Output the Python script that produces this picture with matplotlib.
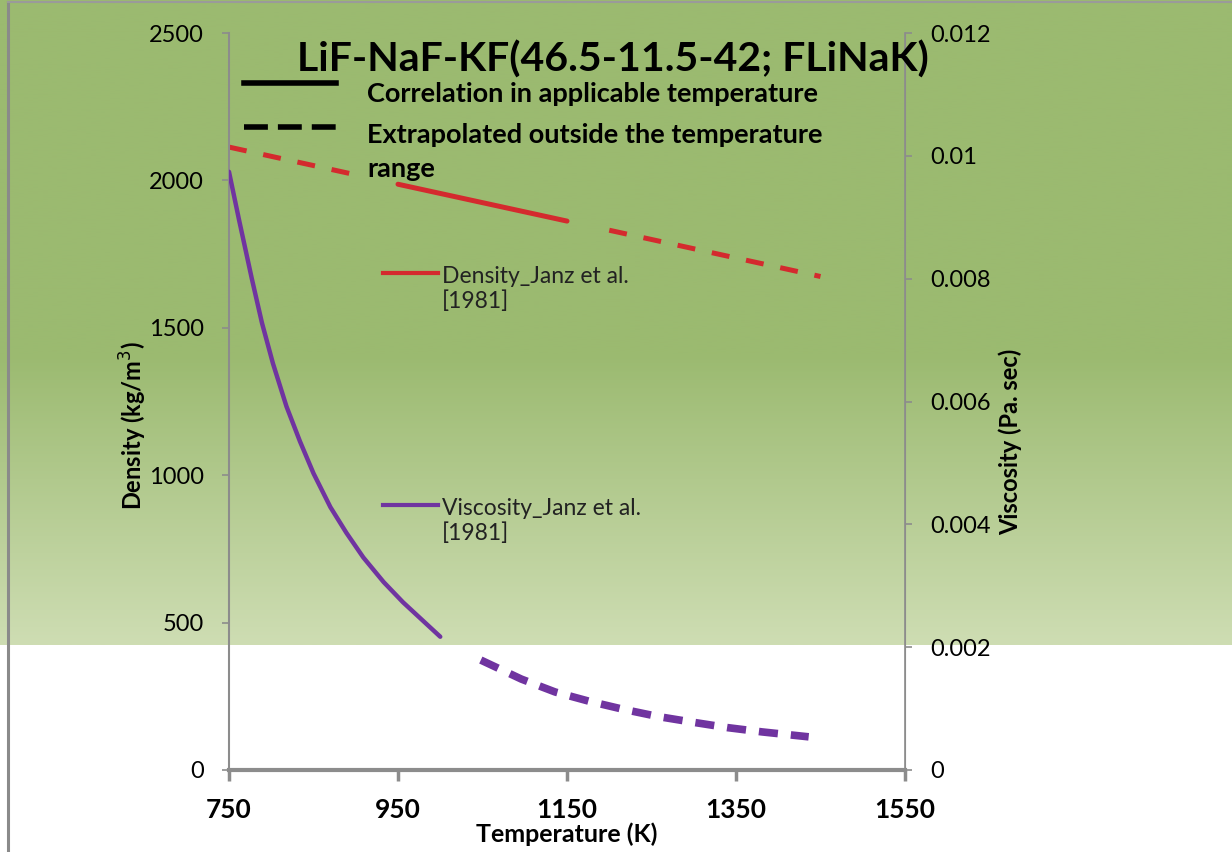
import numpy as np
import matplotlib
matplotlib.use("Agg")
import matplotlib.pyplot as plt
from matplotlib.lines import Line2D

# ---------------- data ----------------
# Density (Janz et al. 1981), kg/m3
dens_T_low = [750, 900]
dens_low = [2113, 2019]
dens_T_fit = [950, 1150]
dens_fit = [1987, 1862]
dens_T_high = [1200, 1450]
dens_high = [1831, 1674]

# Viscosity (Janz et al. 1981), Pa.s
visc_T_fit = [750, 762, 777, 789, 802, 818, 834, 850, 870, 889, 909, 933, 956, 1000]
visc_fit = [0.00974, 0.00895, 0.00800, 0.00728, 0.00662, 0.00592, 0.00535, 0.00483,
            0.00428, 0.00386, 0.00346, 0.00306, 0.00273, 0.00217]
visc_T_ext = [1048, 1096, 1136, 1176, 1216, 1258, 1298, 1340, 1381, 1436]
visc_ext = [0.00179, 0.00148, 0.00127, 0.00112, 0.00099, 0.00087, 0.00078,
            0.00069, 0.00062, 0.00054]

x_ticks = [750, 950, 1150, 1350, 1550]
dens_ticks = [0, 500, 1000, 1500, 2000, 2500]
visc_ticks = [0, 0.002, 0.004, 0.006, 0.008, 0.01, 0.012]
visc_tick_labels = ["0", "0.002", "0.004", "0.006", "0.008", "0.01", "0.012"]

title = "LiF-NaF-KF(46.5-11.5-42; FLiNaK)"
legend_solid = "Correlation in applicable temperature"
legend_dash = "Extrapolated outside the temperature\nrange"
dens_label = "Density_Janz et al.\n[1981]"
visc_label = "Viscosity_Janz et al.\n[1981]"
x_label = "Temperature (K)"
y_label = "Density (kg/m$^3$)"
y2_label = "Viscosity (Pa. sec)"

RED = "#D42A2E"
PURPLE = "#7034A0"
FONT = "Lato"

W, H = 1232, 852
fig = plt.figure(figsize=(W / 100, H / 100), dpi=100)
fig.patch.set_facecolor("white")


def fx(px):
    return px / W


def fy(py):
    return 1 - py / H


# background gradient (top part of the image)
gh = 645
bg = fig.add_axes([0, fy(gh), 1, gh / H], zorder=-5)
rows = np.linspace(0, 1, 256)
top = np.array([155, 186, 112]) / 255
bot = np.array([206, 221, 179]) / 255
t = np.clip((rows - 0.55) / 0.45, 0, 1)
grad = top[None, :] * (1 - t[:, None]) + bot[None, :] * t[:, None]
bg.imshow(grad[:, None, :], aspect="auto", extent=[0, 1, 0, 1])
bg.set_axis_off()

# frame lines of the picture
fig.add_artist(Line2D([fx(8), fx(8)], [0, fy(2)], color="#8a8a8a", lw=2.2))
fig.add_artist(Line2D([fx(8), 1], [fy(2), fy(2)], color="#9a9a9a", lw=1.5))

ax = fig.add_axes([fx(229), fy(770), (905 - 229) / W, (770 - 33) / H])
ax.set_facecolor("none")
ax2 = ax.twinx()
ax2.set_facecolor("none")

# density
ax.plot(dens_T_low, dens_low, color=RED, lw=3.6, ls=(0, (3.6, 3.4)))
ax.plot(dens_T_fit, dens_fit, color=RED, lw=3.6, solid_capstyle="round")
ax.plot(dens_T_high, dens_high, color=RED, lw=3.6, ls=(0, (3.6, 3.4)))

# viscosity
ax2.plot(visc_T_fit, visc_fit, color=PURPLE, lw=3.2, solid_capstyle="round")
ax2.plot(visc_T_ext, visc_ext, color=PURPLE, lw=5.5, ls=(0, (2.5, 1.7)))

ax.set_xlim(750, 1550)
ax.set_ylim(0, 2500)
ax2.set_ylim(0, 0.012)
ax.set_xticks(x_ticks)
ax.set_xticklabels([str(v) for v in x_ticks], fontfamily=FONT, fontweight="bold", fontsize=19)
ax.set_yticks(dens_ticks)
ax.set_yticklabels([str(v) for v in dens_ticks], fontfamily=FONT, fontsize=17)
ax2.set_yticks(visc_ticks)
ax2.set_yticklabels(visc_tick_labels, fontfamily=FONT, fontsize=17)

for a in (ax, ax2):
    for s in a.spines.values():
        s.set_color("#8c8c8c")
    a.spines["top"].set_visible(False)
ax.spines["left"].set_linewidth(1.5)
ax.spines["bottom"].set_linewidth(3)
ax2.spines["right"].set_linewidth(1.2)
ax2.spines["left"].set_visible(False)
ax2.spines["bottom"].set_visible(False)
ax.tick_params(axis="x", direction="out", length=8, width=2.5, color="#8c8c8c", pad=12)
ax.tick_params(axis="y", direction="out", length=5, width=1.2, color="#8c8c8c", pad=13)
ax2.tick_params(axis="y", direction="out", length=5, width=1.2, color="#8c8c8c", pad=13)

# axis titles
fig.text(fx(567), fy(834), x_label, fontfamily=FONT, fontweight="bold", fontsize=18,
         ha="center", va="center")
fig.text(fx(133), fy(426), y_label, fontfamily=FONT, fontweight="bold", fontsize=17,
         ha="center", va="center", rotation=90)
fig.text(fx(1010), fy(442), y2_label, fontfamily=FONT, fontweight="bold", fontsize=17,
         ha="center", va="center", rotation=90)

# title and custom legend
fig.text(fx(297), fy(60), title, fontfamily=FONT, fontweight="bold", fontsize=29.5,
         va="center", ha="left")
fig.add_artist(Line2D([fx(244), fx(336)], [fy(83)] * 2, color="black", lw=4))
fig.add_artist(Line2D([fx(244), fx(336)], [fy(127)] * 2, color="black", lw=4,
                      ls=(0, (4.3, 1.8))))
fig.text(fx(367), fy(94), legend_solid, fontfamily=FONT, fontweight="bold", fontsize=19.5,
         va="center", ha="left")
fig.text(fx(367), fy(152), legend_dash, fontfamily=FONT, fontweight="bold", fontsize=19.5,
         va="center", ha="left", linespacing=1.5)

fig.add_artist(Line2D([fx(383), fx(438)], [fy(273)] * 2, color=RED, lw=3))
fig.text(fx(442), fy(289), dens_label, fontfamily=FONT, fontsize=16.5, color="#222222",
         va="center", ha="left", linespacing=1.2)
fig.add_artist(Line2D([fx(383), fx(438)], [fy(505)] * 2, color=PURPLE, lw=3))
fig.text(fx(442), fy(521), visc_label, fontfamily=FONT, fontsize=16.5, color="#222222",
         va="center", ha="left", linespacing=1.2)

fig.savefig("out.png", dpi=100)
